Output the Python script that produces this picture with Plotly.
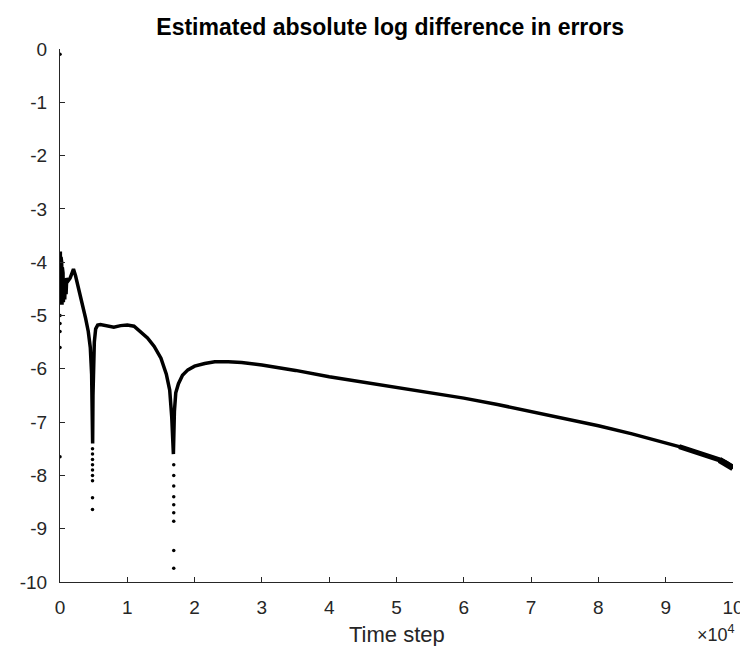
"""Estimated absolute log difference in errors — MATLAB-style line plot."""
import plotly.graph_objects as go

# main curve (time step, log difference)
steps = [0, 50, 100, 150, 200, 250, 300, 350, 400, 450, 500, 600, 700, 800,
         900, 1000, 1200, 1500, 1800, 2000, 2300, 2800, 3300, 3800, 4200,
         4500, 4700, 4800, 4850, 4900, 5000, 5100, 5300, 5600, 6000, 7000,
         8000, 9000, 10000, 11000, 12000, 13000, 14000, 15000, 15800, 16300,
         16600, 16850, 17000, 17200, 17600, 18200, 19000, 20000, 21500,
         23000, 25000, 27000, 30000, 35000, 40000, 45000, 50000, 55000,
         60000, 65000, 70000, 75000, 80000, 85000, 90000, 92000, 94000,
         96000, 98000, 99000, 100000]
log_diff = [-4.3, -3.8, -4.8, -3.9, -4.6, -4.0, -4.8, -4.1, -4.7, -4.2,
            -4.75, -4.3, -4.7, -4.3, -4.6, -4.3, -4.35, -4.3, -4.2, -4.13,
            -4.25, -4.5, -4.8, -5.05, -5.3, -5.6, -6.1, -6.8, -7.4, -6.5,
            -5.9, -5.5, -5.25, -5.18, -5.17, -5.2, -5.22, -5.19, -5.18, -5.2,
            -5.3, -5.42, -5.58, -5.8, -6.1, -6.4, -6.9, -7.6, -6.8, -6.45,
            -6.28, -6.12, -6.02, -5.95, -5.9, -5.87, -5.87, -5.88, -5.93,
            -6.03, -6.15, -6.25, -6.35, -6.45, -6.55, -6.67, -6.8, -6.93,
            -7.07, -7.22, -7.38, -7.46, -7.54, -7.62, -7.71, -7.77, -7.86]

# isolated points below the dips and at the first steps
dot_steps = [0, 0, 0, 0, 0, 0,
             4830, 4830, 4830, 4830, 4830, 4830, 4830, 4830, 4830,
             16900, 16900, 16900, 16900, 16900, 16900, 16900, 16900, 16900]
dot_vals = [-0.1, -5.0, -5.15, -5.3, -5.6, -7.65,
            -7.5, -7.6, -7.7, -7.8, -7.9, -8.0, -8.1, -8.42, -8.64,
            -7.8, -8.0, -8.2, -8.4, -8.55, -8.7, -8.86, -9.41, -9.74]

x_ticks = [0, 10000, 20000, 30000, 40000, 50000, 60000, 70000, 80000,
           90000, 100000]
x_labels = ["0", "1", "2", "3", "4", "5", "6", "7", "8", "9", "10"]
y_ticks = [0, -1, -2, -3, -4, -5, -6, -7, -8, -9, -10]
y_labels = ["0", "-1", "-2", "-3", "-4", "-5", "-6", "-7", "-8", "-9", "-10"]

ink = "#262626"

fig = go.Figure()
fig.add_trace(go.Scatter(
    x=steps, y=log_diff, mode="lines",
    line=dict(color="black", width=3.5),
    showlegend=False,
))
# the tail gets noisier, so the band of points looks thicker there
n_tail = len([s for s in steps if s >= 92000])
fig.add_trace(go.Scatter(
    x=steps[-n_tail:], y=log_diff[-n_tail:], mode="lines",
    line=dict(color="black", width=5),
    showlegend=False, hoverinfo="skip",
))
fig.add_trace(go.Scatter(
    x=steps[-3:], y=log_diff[-3:], mode="lines",
    line=dict(color="black", width=6.5),
    showlegend=False, hoverinfo="skip",
))
fig.add_trace(go.Scatter(
    x=dot_steps, y=dot_vals, mode="markers",
    marker=dict(color="black", size=3.5),
    showlegend=False,
))

fig.update_layout(
    width=748, height=646,
    margin=dict(l=51, r=14, t=41, b=72),
    plot_bgcolor="white", paper_bgcolor="white",
    font=dict(family="Liberation Sans, Arial, sans-serif", color=ink),
    title=dict(text="<b>Estimated absolute log difference in errors</b>",
               x=0.511, xanchor="center", y=0.971, yanchor="middle",
               font=dict(size=23, color="black")),
)
fig.update_xaxes(
    range=[0, 100000], tickvals=x_ticks, ticktext=x_labels,
    ticks="inside", ticklen=5, tickcolor=ink, showgrid=False, zeroline=False,
    showline=True, linecolor=ink, linewidth=1, tickfont=dict(size=19),
    ticklabelstandoff=8,
)
fig.update_yaxes(
    range=[-10, 0], tickvals=y_ticks, ticktext=y_labels,
    ticks="inside", ticklen=5, tickcolor=ink, showgrid=False, zeroline=False,
    showline=True, linecolor=ink, linewidth=1, tickfont=dict(size=19),
    ticklabelstandoff=8,
)
fig.add_annotation(
    text="Time step", xref="paper", yref="paper", x=0.5, y=-0.0976,
    xanchor="center", yanchor="middle", showarrow=False,
    font=dict(size=22, color=ink),
)
fig.add_annotation(
    text="×10<sup>4</sup>", xref="paper", yref="paper", x=1.006, y=-0.096,
    xanchor="right", yanchor="middle", showarrow=False,
    font=dict(size=18, color=ink),
)

fig.write_html("out.html")
